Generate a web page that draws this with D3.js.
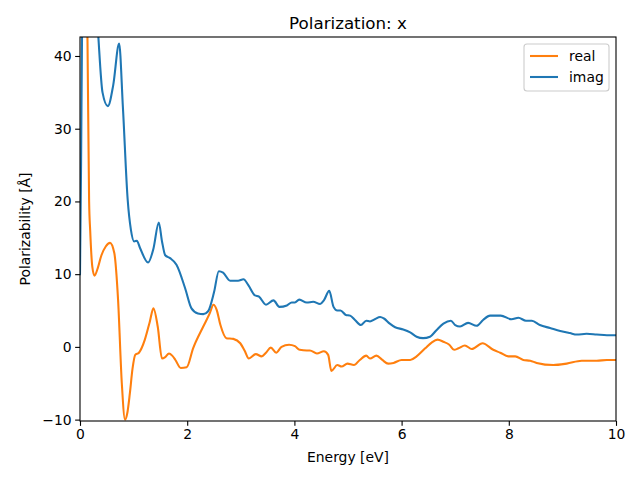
<!DOCTYPE html>
<html><head><meta charset="utf-8">
<script src="https://cdn.jsdelivr.net/npm/d3@7"></script>
<style>body{margin:0;background:#fff}svg{font-family:"DejaVu Sans",sans-serif}</style>
</head><body><svg id="c" width="640" height="480"></svg>
<script>
const title = "Polarization: x";
const xLabel = "Energy [eV]";
const yLabel = "Polarizability [Å]";
const xTicks = [0,2,4,6,8,10];
const yTicks = [-10,0,10,20,30,40];
const seriesNames = ["real","imag"];
const seriesColors = ["#ff7f0e","#1f77b4"];
const realE = [0,0.05,0.1,0.14,0.17,0.19,0.23,0.27,0.33,0.4,0.48,0.56,0.64,0.71,0.78,0.84,0.88,0.93,0.98,1.03,1.1,1.21,1.3,1.37,1.45,1.53,1.59,1.66,1.72,1.78,1.88,1.99,2.11,2.3,2.42,2.49,2.55,2.62,2.73,2.86,2.99,3.07,3.15,3.28,3.39,3.47,3.56,3.66,3.76,3.9,4.01,4.1,4.23,4.29,4.42,4.55,4.63,4.69,4.8,4.88,4.99,5.11,5.22,5.34,5.41,5.53,5.64,5.75,5.85,6.0,6.16,6.28,6.44,6.56,6.67,6.78,6.89,6.98,7.06,7.18,7.31,7.51,7.71,7.84,7.99,8.12,8.27,8.4,8.52,8.83,9.08,9.36,9.64,9.83,10];
const realV = [120,90,60,42,20,16,11,9.8,10.8,12.6,13.8,14.3,12.9,6.5,-5,-10,-9.2,-6.4,-3,-1.1,-0.8,1.0,3.4,5.3,2.8,-1.6,-1.4,-0.9,-1.2,-1.8,-2.9,-2.8,-0.2,2.8,4.6,5.8,5.1,3.0,1.2,1.1,0.5,-0.5,-1.6,-1.0,-1.3,-0.8,-0.1,-0.8,0.0,0.3,0.1,-0.4,-0.5,-0.5,-0.9,-0.6,-1.1,-3.3,-2.5,-2.7,-2.3,-2.5,-1.8,-1.2,-1.6,-1.2,-1.8,-2.3,-2.2,-1.8,-1.8,-1.3,-0.2,0.6,1.0,0.7,0.3,-0.4,-0.2,0.2,-0.3,0.5,-0.4,-0.8,-1.3,-1.3,-1.8,-1.9,-2.2,-2.5,-2.3,-1.9,-1.9,-1.8,-1.8];
const imagE = [0,0.02,0.04,0.1,0.2,0.33,0.42,0.52,0.62,0.73,0.8,0.89,0.95,1.01,1.06,1.12,1.27,1.37,1.47,1.53,1.59,1.68,1.8,1.96,2.08,2.2,2.3,2.39,2.5,2.59,2.67,2.8,2.95,3.05,3.14,3.26,3.34,3.47,3.61,3.72,3.86,3.95,4.01,4.09,4.23,4.35,4.48,4.55,4.65,4.73,4.8,4.86,4.96,5.04,5.13,5.24,5.34,5.41,5.5,5.6,5.67,5.78,5.88,6.03,6.16,6.28,6.4,6.53,6.65,6.78,6.92,7.0,7.09,7.24,7.4,7.52,7.65,7.85,8.05,8.18,8.32,8.43,8.58,8.77,8.96,9.14,9.27,9.45,9.64,9.83,10];
const imagV = [10,25,45,62,58,44,35,33.1,36,41.7,33,20.2,16.1,14.5,14.6,13.6,11.6,13.5,17.1,14.5,12.6,12.2,11.3,8.1,5.3,4.6,4.5,4.9,7.5,10.4,10.2,9.1,9.1,9.3,8.5,7.1,6.9,5.8,6.4,5.5,5.7,6.1,6.1,6.5,6.1,6.2,5.9,6.4,7.7,5.5,5.0,5.0,4.4,4.3,3.7,3.0,3.6,3.5,3.8,4.1,3.9,3.2,2.7,2.4,2.0,1.4,1.2,1.4,2.3,3.2,3.6,3.0,2.8,3.3,2.9,3.7,4.3,4.3,3.8,4.0,3.6,3.6,3.0,2.6,2.2,1.9,1.7,1.8,1.7,1.6,1.6];

const L=80,R=616,T=37,B=421;
const svg=d3.select("#c");
const x=d3.scaleLinear().domain([0,10]).range([L,R]);
const y=d3.scaleLinear().domain([-10.19,42.61]).range([B,T]);

svg.append("defs").append("clipPath").attr("id","cp").append("rect")
  .attr("x",L).attr("y",T).attr("width",R-L).attr("height",B-T);

const line=d3.line().x(d=>x(d[0])).y(d=>y(d[1])).curve(d3.curveMonotoneX);
const data=[d3.zip(realE,realV), d3.zip(imagE,imagV)];
data.forEach((d,i)=>{
  svg.append("path").attr("d",line(d)).attr("fill","none")
    .attr("stroke",seriesColors[i]).attr("stroke-width",2.08)
    .attr("stroke-linejoin","round").attr("stroke-linecap","square").attr("clip-path","url(#cp)");
});

const xa=svg.append("g").attr("transform",`translate(0,${B})`)
  .call(d3.axisBottom(x).tickValues(xTicks).tickSize(4.86).tickPadding(3.5).tickFormat(d3.format("d")));
const ya=svg.append("g").attr("transform",`translate(${L},0)`)
  .call(d3.axisLeft(y).tickValues(yTicks).tickSize(4.86).tickPadding(3.5).tickFormat(d=>d<0?"−"+Math.abs(d):d));
[xa,ya].forEach(a=>{a.select(".domain").remove();a.selectAll("text").attr("font-size",13.9).attr("fill","#000").attr("font-family","DejaVu Sans");a.selectAll("line").attr("stroke","#000").attr("stroke-width",1.1);});

svg.append("rect").attr("x",L).attr("y",T).attr("width",R-L).attr("height",B-T)
  .attr("fill","none").attr("stroke","#000").attr("stroke-width",1.1);

svg.append("text").attr("x",(L+R)/2).attr("y",29).attr("text-anchor","middle")
  .attr("font-size",16.7).text(title);
svg.append("text").attr("x",(L+R)/2).attr("y",462).attr("text-anchor","middle")
  .attr("font-size",13.9).text(xLabel);
svg.append("text").attr("transform",`translate(30,${(T+B)/2}) rotate(-90)`).attr("text-anchor","middle")
  .attr("font-size",13.9).text(yLabel);

const lg=svg.append("g");
lg.append("rect").attr("x",524).attr("y",44).attr("width",85).attr("height",47).attr("rx",3)
  .attr("fill","#fff").attr("fill-opacity",0.8).attr("stroke","#ccc").attr("stroke-width",1.1);
seriesNames.forEach((n,i)=>{
  const yy=56+i*21;
  lg.append("line").attr("x1",530).attr("x2",558).attr("y1",yy).attr("y2",yy)
    .attr("stroke",seriesColors[i]).attr("stroke-width",2.08);
  lg.append("text").attr("x",569).attr("y",yy+5).attr("font-size",13.9).text(n);
});
</script></body></html>
